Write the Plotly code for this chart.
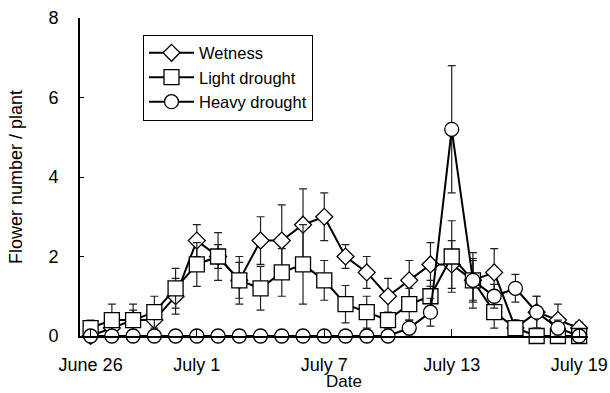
import plotly.graph_objects as go
import pandas as pd

# Daily observations, June 26 .. July 19
dates = pd.date_range("2020-06-26", "2020-07-19", freq="D")

wetness = [0.0, 0.2, 0.4, 0.4, 1.0, 2.4, 2.0, 1.4, 2.4, 2.4, 2.8, 3.0,
           2.0, 1.6, 1.0, 1.4, 1.8, 1.8, 1.4, 1.6, 0.2, 0.6, 0.4, 0.2]
wetness_err = [0.0, 0.2, 0.25, 0.3, 0.45, 0.4, 0.3, 0.45, 0.6, 0.9, 0.9, 0.6,
               0.3, 0.4, 0.45, 0.5, 0.55, 0.6, 0.5, 0.6, 0.2, 0.4, 0.4, 0.15]

light = [0.2, 0.4, 0.4, 0.6, 1.2, 1.8, 2.0, 1.4, 1.2, 1.6, 1.8, 1.4,
         0.8, 0.6, 0.4, 0.8, 1.0, 2.0, 1.4, 0.6, 0.2, 0.0, 0.0, 0.0]
light_err = [0.2, 0.4, 0.4, 0.4, 0.5, 0.55, 0.6, 0.6, 0.55, 0.6, 1.0, 0.5,
             0.47, 0.4, 0.2, 0.4, 0.4, 0.9, 0.55, 0.4, 0.2, 0.0, 0.0, 0.0]

heavy = [0.0, 0.0, 0.0, 0.0, 0.0, 0.0, 0.0, 0.0, 0.0, 0.0, 0.0, 0.0,
         0.0, 0.0, 0.0, 0.2, 0.6, 5.2, 1.4, 1.0, 1.2, 0.6, 0.2, 0.0]
heavy_err = [0.0, 0.0, 0.0, 0.0, 0.0, 0.0, 0.0, 0.0, 0.0, 0.0, 0.0, 0.0,
             0.0, 0.0, 0.0, 0.2, 0.35, 1.6, 0.7, 0.3, 0.35, 0.4, 0.2, 0.0]

tick_dates = ["2020-06-26", "2020-07-01", "2020-07-07", "2020-07-13", "2020-07-19"]
tick_labels = ["June 26", "July 1", "July 7", "July 13", "July 19"]
y_ticks = [0, 2, 4, 6, 8]

series = [
    ("Wetness", wetness, wetness_err, "diamond", 13),
    ("Light drought", light, light_err, "square", 15),
    ("Heavy drought", heavy, heavy_err, "circle", 14),
]

FONT = "Arial, Liberation Sans, sans-serif"

fig = go.Figure()
for i, (name, vals, errs, sym, size) in enumerate(series):
    fig.add_trace(go.Scatter(
        x=dates, y=vals, name=name, mode="lines+markers",
        legendgroup=f"g{i}",
        line=dict(color="black", width=2),
        marker=dict(symbol=sym, size=size, color="white",
                    line=dict(color="black", width=1.3)),
        error_y=dict(type="data", array=errs, visible=True,
                     color="#222222", thickness=1.2, width=4),
        cliponaxis=False,
    ))

fig.update_layout(
    width=610, height=393,
    margin=dict(l=80, r=22, t=18, b=57),
    paper_bgcolor="white", plot_bgcolor="white",
    font=dict(family=FONT, size=18, color="black"),
    showlegend=True,
    legend=dict(
        x=0.124, y=0.948, xanchor="left", yanchor="top",
        bgcolor="white", bordercolor="black", borderwidth=1,
        font=dict(family=FONT, size=16.5, color="black"),
        tracegroupgap=2, traceorder="normal", itemwidth=45,
    ),
    annotations=[dict(
        text="Date", xref="paper", yref="paper",
        x=0.519, y=-0.179, xanchor="center", yanchor="bottom",
        showarrow=False, font=dict(family=FONT, size=17, color="black"),
    )],
)

fig.update_xaxes(
    automargin=False,
    range=["2020-06-25 12:00", "2020-07-19 10:00"],
    tickvals=tick_dates, ticktext=tick_labels,
    ticks="inside", ticklen=7, tickwidth=1.2, tickcolor="black",
    ticklabelstandoff=11,
    showline=True, linecolor="black", linewidth=2,
    showgrid=False, zeroline=False,
    tickfont=dict(size=18),
)
fig.update_yaxes(
    automargin=False,
    range=[0, 8], tickvals=y_ticks,
    ticks="inside", ticklen=4, tickwidth=1.2, tickcolor="black",
    ticklabelstandoff=16,
    showline=True, linecolor="black", linewidth=2,
    showgrid=False, zeroline=False,
    title=dict(text="Flower number / plant", standoff=21, font=dict(size=18)),
    tickfont=dict(size=18),
)

fig.write_html("out.html", config={"displayModeBar": False},
               post_script="document.body.style.margin='0';")
